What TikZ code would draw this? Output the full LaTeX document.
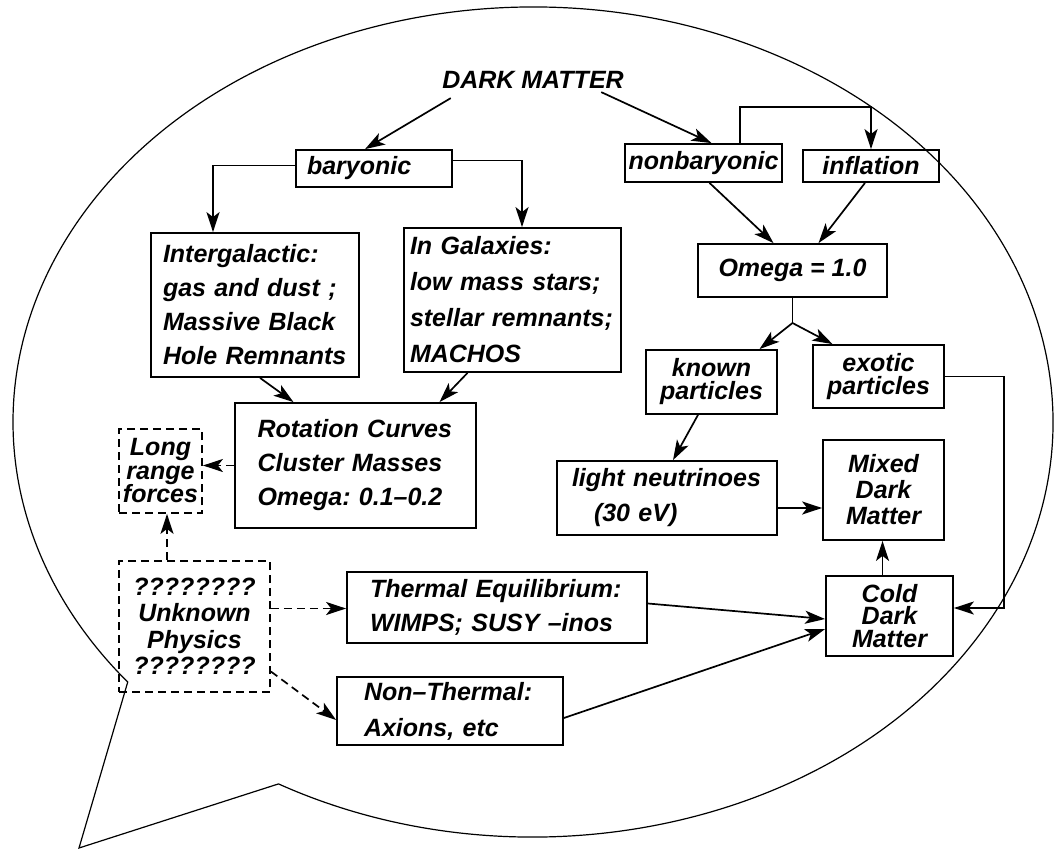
\documentclass[tikz,border=0pt]{standalone}
\usepackage{fontspec}
\setmainfont{Liberation Sans}
\usetikzlibrary{arrows.meta}

\begin{document}
\begin{tikzpicture}[x=1pt,y=-1pt,
        every node/.style={font=\bfseries\itshape\frenchspacing\fontsize{25}{30}\selectfont},
        lh/.style={font=\bfseries\itshape\frenchspacing\fontsize{25}{#1}\selectfont},
        sz/.style 2 args={minimum width=#1pt,minimum height=#2pt},
        box/.style={draw,line width=1.8pt,inner sep=0pt,align=left},
        dbox/.style={box,dash pattern=on 8pt off 5pt},
        conn/.style={line width=1.7pt,-{Stealth[length=20pt,width=13pt,inset=5pt]}},
        dconn/.style={conn,dash pattern=on 8pt off 5pt}]
        \useasboundingbox (0,0) rectangle (1057,850);

        % speech bubble
        \path[draw,line width=1.2pt] (278.5,783.9) arc[start angle=119.3,end angle=-218.8,x radius=520,y radius=415]
            -- (79,848) -- cycle;

        \node (dark) at (533,80) {DARK MATTER};
        \node[box,sz={156}{37},text width=134pt] (baryonic) at (374,168.5) {baryonic};
        \node[box,sz={157}{38},align=center] (nonbaryonic) at (703.5,163) {nonbaryonic};
        \node[box,sz={136}{32},align=center] (inflation) at (871,166) {inflation};
        \node[box,sz={189}{53},align=center] (omega) at (792.5,270.5) {Omega = 1.0};

        \node[box,sz={208}{144},text width=184pt,lh=34] (intergal) at (255,305)
            {Intergalactic:\\gas and dust ;\\Massive Black\\Hole Remnants};
        \node[box,sz={217}{144},text width=205pt,lh=36] (ingal) at (512.5,300)
            {In Galaxies:\\low mass stars;\\stellar remnants;\\MACHOS};
        \node[box,sz={241}{125},text width=196pt,lh=34] (rotation) at (355.5,465.5)
            {Rotation Curves\\Cluster Masses\\Omega: 0.1–0.2};
        \node[dbox,sz={83}{84},align=center,lh=23.5] (longrange) at (160.5,471) {Long\\range\\forces};
        \node[dbox,sz={151}{131},align=center,lh=26.5] (unknown) at (194.5,626.5)
            {????????\\Unknown\\Physics\\????????};
        \node[box,sz={300}{71},text width=254pt,lh=34] (thermal) at (497,607.5)
            {Thermal Equilibrium:\\WIMPS; SUSY –inos};
        \node[box,sz={226}{68},text width=172pt,lh=36] (nonthermal) at (450,711)
            {Non–Thermal:\\Axions, etc};

        \node[box,sz={131}{64},align=center,lh=23] (known) at (711.5,382) {known\\particles};
        \node[box,sz={131}{63},align=center,lh=22.5] (exotic) at (878.5,376.5) {exotic\\particles};
        \node[box,sz={220}{74},text width=190pt,lh=35] (light) at (667,498)
            {light neutrinoes\\\hspace*{22pt}(30 eV)};
        \node[box,sz={121}{100},align=center,lh=26] (mixed) at (883.5,490) {Mixed\\Dark\\Matter};
        \node[box,sz={127}{80},align=center,lh=22.5] (cold) at (889.5,616) {Cold\\Dark\\Matter};

        \coordinate (split) at (792.5,323);

        \path[draw,conn] ([xshift=12pt,yshift=-6pt]dark.south west) -- ([xshift=-9pt]baryonic.north);
        \path[draw,conn] ([xshift=-26pt]dark.south east) -- ([xshift=8pt]nonbaryonic.north);
        \path[draw,conn] ([yshift=3pt]baryonic.west) -| ([xshift=-42pt]intergal.north);
        \path[draw,conn] ([yshift=8pt]baryonic.east) -| ([xshift=9.5pt]ingal.north);
        \path[draw,conn] ([xshift=36.5pt]nonbaryonic.north) -- ++(0,-36) -| (inflation.north);
        \path[draw,conn] ([xshift=6pt]nonbaryonic.south) -- ([xshift=-19pt]omega.north);
        \path[draw,conn] ([xshift=-6pt]inflation.south) -- ([xshift=26pt]omega.north);
        \path[draw,line width=1.7pt] (omega.south) -- (split);
        \path[draw,conn] (split) -- ([xshift=48pt]known.north);
        \path[draw,conn] (split) -- ([xshift=-46pt]exotic.north);
        \path[draw,conn] ([xshift=-13.5pt]known.south) -- ([xshift=6pt]light.north);
        \path[draw,conn] ([yshift=-10pt]light.east) -- ([yshift=-10pt]light.east -| mixed.west);
        \path[draw,conn] ([xshift=-7pt]cold.north) -- ([xshift=-7pt]cold.north |- mixed.south);
        \path[draw,conn] (exotic.east) -- ++(59,0) |- ([yshift=8pt]cold.east);
        \path[draw,conn] ([yshift=4pt]thermal.east) -- ([yshift=-3pt]cold.west);
        \path[draw,conn] ([yshift=-7pt]nonthermal.east) -- ([yshift=-13pt]cold.west);

        \path[draw,conn] ([xshift=5pt]intergal.south) -- ([xshift=-62pt]rotation.north);
        \path[draw,conn] ([xshift=-45pt]ingal.south) -- ([xshift=84pt]rotation.north);

        \path[draw,dconn] (rotation.west) -- (rotation.west -| longrange.east);
        \path[draw,dconn] ([xshift=-27.5pt]unknown.north) -- ([xshift=-27.5pt]unknown.north |- longrange.south);
        \path[draw,dconn] ([yshift=18pt]unknown.east) -- ([yshift=18pt]unknown.east -| thermal.west);
        \path[draw,dconn] ([yshift=-45pt]unknown.east) -- ([yshift=-9pt]nonthermal.west);
\end{tikzpicture}
\end{document}
